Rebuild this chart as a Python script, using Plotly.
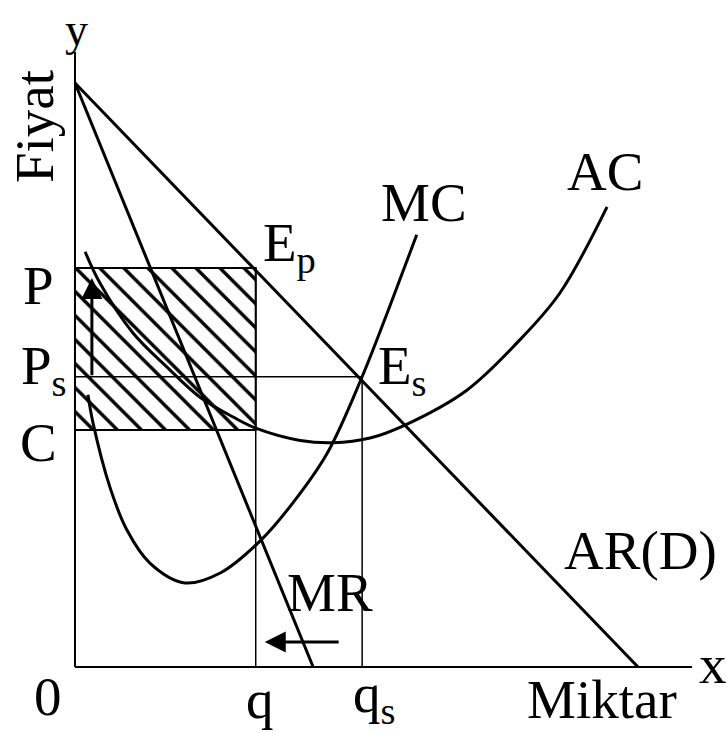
import plotly.graph_objects as go

# 독점 기업 - 가격 규제 그래프 (Fiyat / Miktar)
# 단위는 임의: x 0~10, y 0~10

# 수요곡선 AR(D)와 한계수입 MR
demand_x = [0, 10]
demand_y = [10, 0]
mr_x = [0, 4.23]
mr_y = [10, 0]

# 한계비용 MC
mc_x = [0.23, 0.32, 0.62, 0.92, 1.33, 1.95, 2.58, 3.29, 3.87, 4.48, 5.10, 5.60, 6.07]
mc_y = [4.66, 4.18, 3.08, 2.35, 1.78, 1.44, 1.61, 2.16, 2.81, 3.66, 4.97, 6.20, 7.40]

# 평균비용 AC
ac_x = [0.18, 0.44, 1.03, 1.63, 2.22, 2.81, 3.21, 4.00, 4.58, 5.24, 5.90, 6.96, 7.85, 8.61, 9.45]
ac_y = [7.11, 6.58, 5.72, 5.14, 4.62, 4.28, 4.09, 3.88, 3.84, 3.92, 4.16, 4.74, 5.55, 6.40, 7.88]

# 균형점
q = 3.21
qs = 5.10
P = 6.83
Ps = 4.97
C = 4.06

x_axis_end = 10.96
y_axis_end = 10.53

FONT = "Liberation Serif"
FS = 55

fig = go.Figure()

# 빗금 사각형 (이윤 영역)
fig.add_trace(go.Bar(
    x=[q / 2], y=[P - C], base=[C], width=[q],
    marker=dict(color='white', line=dict(color='black', width=2),
                pattern=dict(shape='\\', fgcolor='black', bgcolor='white', fgopacity=1,
                             size=17, solidity=0.2)),
    hoverinfo='skip',
))

# 축
fig.add_trace(go.Scatter(x=[0, 0], y=[0, y_axis_end], mode='lines', line=dict(color='black', width=2)))
fig.add_trace(go.Scatter(x=[0, x_axis_end], y=[0, 0], mode='lines', line=dict(color='black', width=2)))

# 보조선
fig.add_trace(go.Scatter(x=[0, qs], y=[Ps, Ps], mode='lines', line=dict(color='black', width=1.5)))
fig.add_trace(go.Scatter(x=[q, q], y=[0, P], mode='lines', line=dict(color='black', width=1.5)))
fig.add_trace(go.Scatter(x=[qs, qs], y=[0, Ps], mode='lines', line=dict(color='black', width=1.5)))

# 곡선
for xs, ys in [(demand_x, demand_y), (mr_x, mr_y)]:
    fig.add_trace(go.Scatter(x=xs, y=ys, mode='lines', line=dict(color='black', width=3)))
for xs, ys in [(mc_x, mc_y), (ac_x, ac_y)]:
    fig.add_trace(go.Scatter(x=xs, y=ys, mode='lines', line=dict(color='black', width=3, shape='spline')))

# 화살표
fig.add_annotation(x=0.30, y=6.66, ax=0.30, ay=Ps, xref='x', yref='y', axref='x', ayref='y',
                   showarrow=True, arrowhead=2, arrowsize=1.4, arrowwidth=3, arrowcolor='black', text='')
fig.add_annotation(x=3.37, y=0.43, ax=4.71, ay=0.43, xref='x', yref='y', axref='x', ayref='y',
                   showarrow=True, arrowhead=2, arrowsize=1.4, arrowwidth=3, arrowcolor='black', text='')

labels = [
    ('y', 0.02, 10.92, 0, 46),
    ('Fiyat', -0.73, 9.26, -90, FS),
    ('P', -0.64, 6.54, 0, FS),
    ('C', -0.64, 3.85, 0, FS),
    ('0', -0.48, -0.5, 0, FS),
    ('Miktar', 9.36, -0.55, 0, FS),
    ('x', 11.33, 0.05, 0, FS),
    ('AR(D)', 10.04, 1.99, 0, FS),
    ('MR', 4.53, 1.27, 0, FS),
    ('MC', 6.20, 7.95, 0, FS),
    ('AC', 9.41, 8.48, 0, FS),
]
for text, x, y, ang, fs in labels:
    fig.add_annotation(x=x, y=y, text=text, showarrow=False, textangle=ang,
                       font=dict(family=FONT, size=fs, color='black'))

# 아래첨자 라벨
sub_labels = [
    ('P<sub>s</sub>', -1.0, 5.1),
    ('q', 3.0, -0.55),
    ('q<sub>s</sub>', 4.9, -0.52),
    ('E<sub>p</sub>', 3.3, 7.2),
    ('E<sub>s</sub>', 5.35, 5.1),
]
for text, x, y in sub_labels:
    fig.add_annotation(x=x, y=y, text=text, showarrow=False, xanchor='left',
                       font=dict(family=FONT, size=FS, color='black'))

fig.update_layout(
    width=726, height=733,
    margin=dict(l=0, r=0, t=0, b=0),
    plot_bgcolor='white', paper_bgcolor='white',
    showlegend=False,
    xaxis=dict(range=[-1.332, 11.563], visible=False),
    yaxis=dict(range=[-1.130, 11.421], visible=False),
)
fig.write_html("out.html", config={'displayModeBar': False},
               post_script="document.body.style.margin='0';")
